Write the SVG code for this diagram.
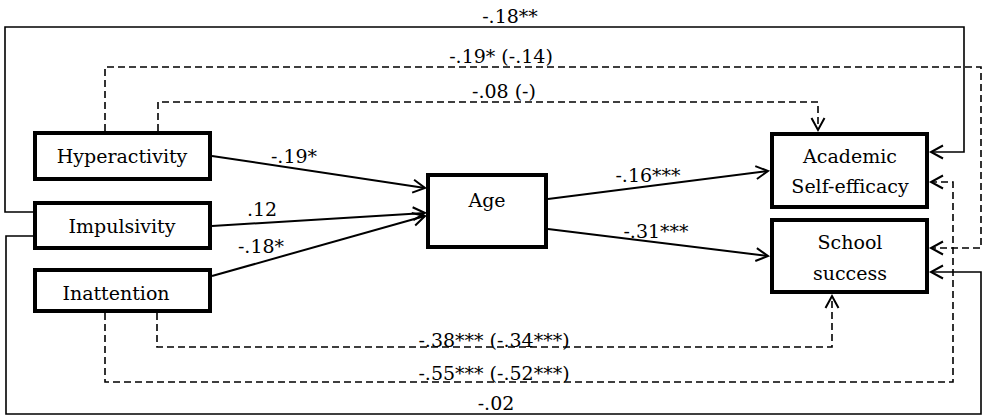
<svg xmlns="http://www.w3.org/2000/svg" width="982" height="416" viewBox="0 0 982 416">
<defs>
<marker id="arr" markerUnits="userSpaceOnUse" markerWidth="16" markerHeight="16" refX="12" refY="6.5" orient="auto" overflow="visible">
<path d="M0,0 L12,6.5 L0,13" fill="none" stroke="#000" stroke-width="2"/>
</marker>
</defs>
<style>
.box{fill:#fff;stroke:#000;stroke-width:4}
.t{font-family:"DejaVu Serif","Liberation Serif",serif;font-size:19px;fill:#000;text-anchor:middle}
.s{fill:none;stroke:#000;stroke-width:1.6}
.d{fill:none;stroke:#000;stroke-width:1.6;stroke-dasharray:7,4}
.a{fill:none;stroke:#000;stroke-width:2;marker-end:url(#arr)}
</style>
<rect width="982" height="416" fill="#fff"/>
<g id="connectors">
<path class="s" d="M33,212 H5 V27 H964 V152 H931" marker-end="url(#arr)"/>
<path class="d" d="M105,131 V67 H981 V248 H931" marker-end="url(#arr)"/>
<path class="d" d="M158,131 V102 H818 V130" marker-end="url(#arr)"/>
<path class="s" d="M33,236 H6 V414 H981 V272 H931" marker-end="url(#arr)"/>
<path class="d" d="M157,313 V347 H832 V296" marker-end="url(#arr)"/>
<path class="d" d="M105,313 V382 H953 V182 H931" marker-end="url(#arr)"/>
<line class="a" x1="212" y1="156" x2="425" y2="188"/>
<line class="a" x1="212" y1="226" x2="425" y2="213"/>
<line class="a" x1="212" y1="276" x2="425" y2="216"/>
<line class="a" x1="548" y1="199" x2="768" y2="171"/>
<line class="a" x1="548" y1="229" x2="768" y2="256"/>
<text class="t" x="510" y="23">-.18**</text>
<text class="t" x="501" y="63">-.19* (-.14)</text>
<text class="t" x="504" y="98">-.08 (-)</text>
<text class="t" x="294" y="163">-.19*</text>
<text class="t" x="262" y="216">.12</text>
<text class="t" x="261" y="253">-.18*</text>
<text class="t" x="648" y="182">-.16***</text>
<text class="t" x="656" y="238">-.31***</text>
<text class="t" x="494" y="347">-.38*** (-.34***)</text>
<text class="t" x="494" y="380">-.55*** (-.52***)</text>
<text class="t" x="496" y="410">-.02</text>
</g>
<g id="hyperactivity">
<rect class="box" x="35" y="133" width="175" height="46"/>
<text class="t" x="122" y="163">Hyperactivity</text>
</g>
<g id="impulsivity">
<rect class="box" x="35" y="203" width="175" height="45"/>
<text class="t" x="122" y="233">Impulsivity</text>
</g>
<g id="inattention">
<rect class="box" x="35" y="270" width="175" height="41"/>
<text class="t" x="116" y="300">Inattention</text>
</g>
<g id="age">
<rect class="box" x="428" y="175" width="118" height="72"/>
<text class="t" x="487" y="207">Age</text>
</g>
<g id="academic">
<rect class="box" x="772" y="134" width="155" height="73"/>
<text class="t" x="850" y="163">Academic</text>
<text class="t" x="850" y="193">Self-efficacy</text>
</g>
<g id="school">
<rect class="box" x="772" y="220" width="155" height="72"/>
<text class="t" x="850" y="249">School</text>
<text class="t" x="850" y="280">success</text>
</g>
</svg>
